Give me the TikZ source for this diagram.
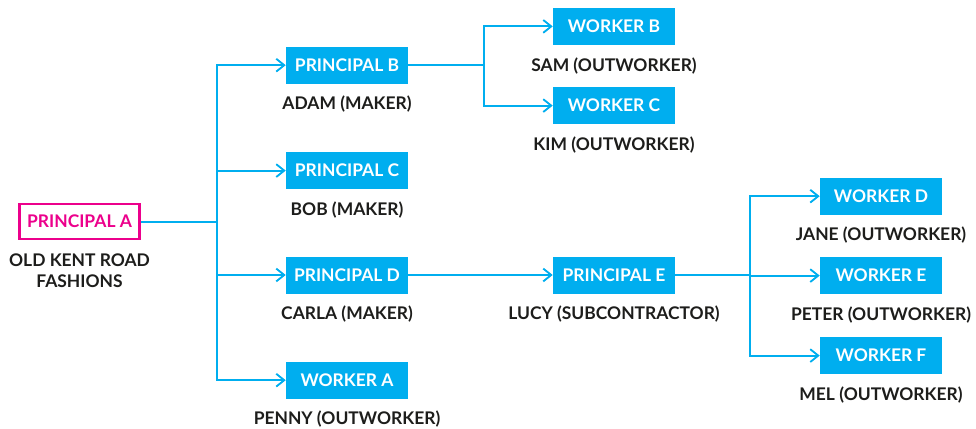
\documentclass[tikz,border=0pt]{standalone}
\usepackage{fontspec}
\setmainfont{Lato}
\usetikzlibrary{arrows.meta}
\usepackage{xcolor}
\definecolor{chainblue}{HTML}{00AEEF}
\definecolor{chainpink}{HTML}{EC008C}
\definecolor{chaintext}{HTML}{1D1D1B}

\begin{document}
\begin{tikzpicture}[>={Straight Barb[length=2mm,width=3.2mm,line width=1.3pt]},
  font=\fontsize{12.4}{15}\selectfont\bfseries,
  box/.style={fill=chainblue,text=white,minimum width=3.05cm,minimum height=0.925cm,inner sep=0pt},
  topbox/.style={draw=chainpink,line width=1.5pt,fill=white,text=chainpink,minimum width=3.0cm,minimum height=0.89cm,inner sep=0pt},
  who/.style={text=chaintext,align=center,anchor=base,inner sep=0pt},
  link/.style={draw=chainblue,line width=1.4pt}]
\useasboundingbox (0,0) rectangle (24.4,10.7);
% the chain: principals and workers
\node[topbox] (pa) at (1.988,5.16) {PRINCIPAL A};
\node[box] (pb) at (8.675,9.07) {PRINCIPAL B};
\node[box] (pc) at (8.675,6.435) {PRINCIPAL C};
\node[box] (pd) at (8.675,3.825) {PRINCIPAL D};
\node[box] (wa) at (8.675,1.195) {WORKER A};
\node[box] (wb) at (15.35,10.04) {WORKER B};
\node[box] (wc) at (15.35,8.06) {WORKER C};
\node[box] (pe) at (15.35,3.825) {PRINCIPAL E};
\node[box] (wd) at (22.025,5.795) {WORKER D};
\node[box] (we) at (22.025,3.81) {WORKER E};
\node[box] (wf) at (22.025,1.81) {WORKER F};
% names under the boxes (base of a two-line name is its last line)
\node[who] (pal) at ([yshift=-1.64cm]pa.center) {OLD KENT ROAD\\FASHIONS};
\node[who] (pbl) at ([yshift=-1.115cm]pb.center) {ADAM (MAKER)};
\node[who] (pcl) at ([yshift=-1.115cm]pc.center) {BOB (MAKER)};
\node[who] (pdl) at ([yshift=-1.115cm]pd.center) {CARLA (MAKER)};
\node[who] (wal) at ([yshift=-1.115cm]wa.center) {PENNY (OUTWORKER)};
\node[who] (wbl) at ([yshift=-1.115cm]wb.center) {SAM (OUTWORKER)};
\node[who] (wcl) at ([yshift=-1.115cm]wc.center) {KIM (OUTWORKER)};
\node[who] (pel) at ([yshift=-1.115cm]pe.center) {LUCY (SUBCONTRACTOR)};
\node[who] (wdl) at ([yshift=-1.115cm]wd.center) {JANE (OUTWORKER)};
\node[who] (wel) at ([yshift=-1.115cm]we.center) {PETER (OUTWORKER)};
\node[who] (wfl) at ([yshift=-1.115cm]wf.center) {MEL (OUTWORKER)};
% branch points
\coordinate (ja) at (5.425,5.16);
\coordinate (jb) at (12.09,9.07);
\coordinate (je) at (18.75,3.825);
% links
\draw[link] (pa.east) -- (ja);
\draw[link,line cap=rect] (ja |- pb) -- (ja |- wa);
\foreach \n in {pb,pc,pd,wa}
  \draw[link,->] (ja |- \n) -- (\n.west);
\draw[link] (pb.east) -- (jb);
\draw[link,line cap=rect] (jb |- wb) -- (jb |- wc);
\foreach \n in {wb,wc}
  \draw[link,->] (jb |- \n) -- (\n.west);
\draw[link,->] (pd.east) -- (pe.west);
\draw[link] (pe.east) -- (je);
\draw[link,line cap=rect] (je |- wd) -- (je |- wf);
\foreach \n in {wd,we,wf}
  \draw[link,->] (je |- \n) -- (\n.west);
\end{tikzpicture}
\end{document}
